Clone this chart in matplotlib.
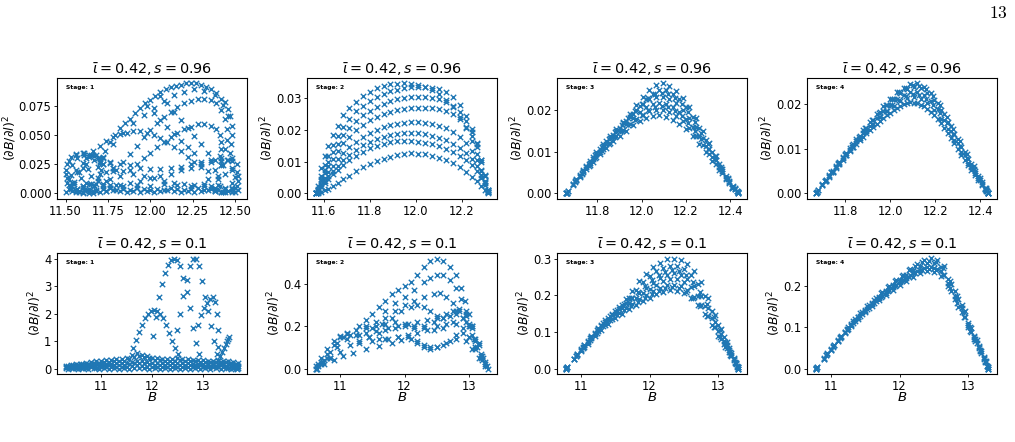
import matplotlib
matplotlib.use("Agg")
import matplotlib.pyplot as plt

# ---------------- text ----------------
row_titles = [r'$\bar{\iota}=0.42, s=0.96$', r'$\bar{\iota}=0.42, s=0.1$']
stage_names = ['Stage: 1', 'Stage: 2', 'Stage: 3', 'Stage: 4']
y_label = r'$(\partial B/\partial l)^2$'
x_label = r'$B$'
page_number = '13'

# ---------------- s = 0.96, stage 1 ----------------
s096_st1_B = [
    [11.70, 11.73, 11.76, 11.79, 11.82, 11.85, 11.88, 11.91, 11.94, 11.97, 12.00, 12.03, 12.06, 12.09, 12.12, 12.15,
     12.18, 12.21, 12.24, 12.27, 12.30, 12.33, 12.36, 12.39, 12.42, 12.44, 12.46, 12.47, 12.48, 12.48, 12.475, 12.47],
    [11.72, 11.78, 11.84, 11.90, 11.96, 12.02, 12.08, 12.14, 12.20, 12.26, 12.32, 12.38, 12.43, 12.46],
    [11.80, 11.84, 11.88, 11.92, 11.96, 12.00, 12.04, 12.08, 12.12, 12.16, 12.20, 12.24, 12.28, 12.32, 12.36, 12.39,
     12.42, 12.44, 12.45, 12.45, 12.44],
    [11.88, 11.92, 11.96, 12.00, 12.04, 12.08, 12.12, 12.16, 12.20, 12.24, 12.28, 12.32, 12.36, 12.39, 12.41, 12.42,
     12.42, 12.41],
    [11.62, 11.66, 11.70, 11.74, 11.78, 11.82, 11.86, 11.90, 11.94, 11.98, 12.02, 12.06, 12.10, 12.14, 12.18, 12.22,
     12.26, 12.30, 12.34],
    [12.06, 12.10, 12.14, 12.18, 12.22, 12.26, 12.30, 12.34, 12.38, 12.42],
    [11.98, 12.02, 12.06, 12.10, 12.14, 12.18, 12.22, 12.26],
    [11.70, 11.76, 11.82, 11.88, 11.94, 12.00, 12.06, 12.12, 12.18, 12.24, 12.30, 12.36, 12.42, 12.48],
    [11.76, 11.82, 11.88, 11.94, 12.00, 12.06, 12.12, 12.18, 12.24, 12.30, 12.36, 12.42, 12.46],
    [11.72, 11.78, 11.84, 11.90, 11.96, 12.02, 12.08, 12.14, 12.20, 12.26, 12.32, 12.38, 12.44],
    [11.50, 11.51, 11.53, 11.56, 11.60, 11.64, 11.67, 11.69, 11.70, 11.69, 11.67, 11.64, 11.60, 11.56, 11.53, 11.51],
    [11.53, 11.54, 11.57, 11.61, 11.65, 11.69, 11.72, 11.74, 11.74, 11.72, 11.68, 11.64, 11.60, 11.57, 11.54],
    [11.55, 11.57, 11.60, 11.63, 11.65, 11.64, 11.61, 11.57],
    [11.52, 11.56, 11.62, 11.70, 11.78, 11.82, 11.80, 11.74, 11.66, 11.58, 11.53],
    [11.50, 11.52, 11.56, 11.61, 11.66, 11.70, 11.71, 11.69, 11.65, 11.60, 11.55, 11.51],
    [11.58, 11.60, 11.64, 11.68, 11.72, 11.76, 11.78, 11.76, 11.72, 11.67, 11.62, 11.59],
    [12.40, 12.42, 12.45, 12.48, 12.51, 12.52, 12.51, 12.48, 12.44, 12.41],
    [12.34, 12.38, 12.43, 12.48, 12.50, 12.48, 12.43, 12.38],
    [12.36, 12.40, 12.44, 12.48, 12.51, 12.52, 12.50, 12.46, 12.42, 12.38],
    [11.50, 11.54, 11.58, 11.62, 11.66, 11.70, 11.74, 11.78, 11.82, 11.86, 11.90, 11.94, 11.98, 12.02, 12.06, 12.10,
     12.14, 12.18, 12.22, 12.26, 12.30, 12.34, 12.38, 12.42, 12.46, 12.50],
    [11.52, 11.56, 11.60, 11.64, 11.68, 11.72, 11.76, 11.80, 11.84, 11.88, 11.92, 11.96, 12.00, 12.04, 12.08, 12.12,
     12.16, 12.20, 12.24, 12.28, 12.32, 12.36, 12.40, 12.44, 12.48, 12.52],
    [11.52, 11.60, 11.68, 11.76, 11.84, 11.92, 12.00, 12.08, 12.16, 12.24, 12.32, 12.40, 12.48],
]
s096_st1_y = [
    [.030, .036, .044, .050, .056, .060, .064, .069, .073, .077, .080, .083, .087, .089, .091, .092,
     .093, .094, .094, .094, .093, .091, .089, .086, .081, .078, .072, .066, .058, .050, .042, .035],
    [.030, .042, .052, .060, .067, .073, .079, .084, .087, .089, .088, .084, .076, .066],
    [.020, .027, .034, .041, .048, .054, .060, .065, .070, .074, .077, .079, .081, .081, .080, .077,
     .071, .064, .055, .046, .038],
    [.020, .025, .030, .035, .040, .044, .048, .052, .055, .057, .059, .059, .058, .055, .050, .044,
     .038, .032],
    [.030, .036, .041, .045, .048, .051, .052, .053, .053, .052, .050, .047, .044, .040, .036, .031,
     .027, .023, .019],
    [.083, .077, .070, .063, .056, .049, .042, .035, .029, .024],
    [.075, .069, .063, .057, .051, .045, .040, .035],
    [.028, .027, .025, .024, .022, .021, .021, .022, .023, .025, .027, .029, .030, .028],
    [.005, .007, .009, .011, .013, .015, .017, .020, .022, .025, .027, .028, .029],
    [.025, .022, .019, .017, .015, .013, .011, .009, .008, .007, .006, .005, .004],
    [.017, .025, .031, .034, .035, .033, .029, .023, .017, .011, .006, .002, .000, .001, .004, .009],
    [.016, .024, .030, .033, .033, .030, .025, .018, .011, .006, .002, .000, .001, .004, .009],
    [.010, .018, .022, .021, .015, .008, .003, .004],
    [.012, .020, .025, .026, .022, .015, .007, .002, .000, .002, .006],
    [.020, .028, .033, .035, .033, .027, .020, .013, .008, .006, .008, .013],
    [.018, .026, .031, .033, .031, .026, .019, .012, .008, .007, .009, .013],
    [.015, .024, .029, .030, .025, .015, .006, .001, .001, .006],
    [.012, .020, .024, .022, .014, .005, .001, .003],
    [.006, .012, .017, .020, .018, .011, .005, .002, .001, .002],
    [.001, .002, .001, .003, .002, .001, .002, .003, .002, .001, .002, .001, .002, .001, .002, .003,
     .002, .001, .002, .001, .002, .003, .002, .001, .002, .001],
    [.004, .003, .005, .004, .003, .004, .005, .003, .004, .003, .005, .004, .003, .004, .003, .005,
     .004, .003, .004, .005, .003, .004, .003, .005, .004, .003],
    [.007, .006, .008, .007, .006, .007, .006, .008, .007, .006, .008, .007, .009],
]

# ---------------- s = 0.96, stage 2 ----------------
s096_st2_grid = [11.565, 11.575, 11.59, 11.605, 11.62, 11.64, 11.66, 11.685, 11.71, 11.74, 11.77, 11.80, 11.83,
                 11.86, 11.89, 11.92, 11.95, 11.98, 12.01, 12.04, 12.07, 12.10, 12.13, 12.16, 12.19, 12.22,
                 12.245, 12.265, 12.285, 12.30, 12.315]
s096_st2_y = [
    [0, .0025, .0080, .0118, .0148, .0185, .0213, .0246, .0268, .0289, .0306, .0320, .0331, .0339, .0343, .0345,
     .0346, .0345, .0342, .0335, .0325, .0312, .0295, .0272, .0241, .0205, .0165, .0125, .0075, .0035, .0005],
    [0, .0015, .0055, .0090, .0118, .0152, .0180, .0210, .0235, .0258, .0276, .0291, .0303, .0313, .0321, .0327,
     .0331, .0334, .0335, .0335, .0333, .0328, .0318, .0302, .0278, .0243, .0203, .0160, .0105, .0055, .0010],
    [0, .0012, .0045, .0075, .0100, .0130, .0156, .0184, .0207, .0228, .0246, .0260, .0272, .0282, .0290, .0296,
     .0300, .0302, .0303, .0303, .0301, .0297, .0289, .0276, .0256, .0227, .0192, .0155, .0105, .0058, .0010],
    [0, .0010, .0038, .0063, .0085, .0110, .0133, .0158, .0179, .0199, .0216, .0230, .0241, .0250, .0257, .0262,
     .0266, .0268, .0270, .0270, .0269, .0266, .0260, .0250, .0234, .0210, .0180, .0146, .0100, .0055, .0010],
    [0, .0008, .0030, .0050, .0068, .0088, .0107, .0128, .0146, .0163, .0178, .0190, .0200, .0208, .0215, .0220,
     .0223, .0225, .0225, .0223, .0219, .0213, .0205, .0194, .0178, .0158, .0133, .0106, .0072, .0040, .0007],
    [0, .0006, .0024, .0040, .0055, .0072, .0088, .0106, .0122, .0138, .0151, .0162, .0171, .0178, .0184, .0188,
     .0190, .0190, .0189, .0186, .0181, .0175, .0167, .0157, .0144, .0128, .0108, .0086, .0058, .0032, .0005],
    [0, .0005, .0019, .0032, .0045, .0060, .0074, .0090, .0105, .0119, .0131, .0142, .0150, .0157, .0161, .0164,
     .0165, .0165, .0163, .0160, .0155, .0149, .0141, .0131, .0119, .0105, .0089, .0071, .0048, .0027, .0004],
    [0, .0002, .0006, .0010, .0015, .0024, .0033, .0045, .0056, .0070, .0082, .0093, .0102, .0110, .0116, .0121,
     .0124, .0126, .0125, .0123, .0119, .0113, .0105, .0095, .0083, .0068, .0053, .0040, .0024, .0012, .0002],
]

# ---------------- s = 0.96, stage 3 ----------------
s096_st3_grid_a = [11.656, 11.69, 11.72, 11.75, 11.78, 11.81, 11.84, 11.87, 11.90, 11.93, 11.96, 11.99, 12.02,
                   12.05, 12.08, 12.11, 12.14, 12.17, 12.20, 12.23, 12.26, 12.29, 12.32, 12.35, 12.38, 12.41, 12.437]
s096_st3_grid_b = [11.66, 11.705, 11.735, 11.765, 11.795, 11.825, 11.855, 11.885, 11.915, 11.945, 11.975, 12.005,
                   12.035, 12.065, 12.095, 12.125, 12.155, 12.185, 12.215, 12.245, 12.275, 12.305, 12.335, 12.365,
                   12.395, 12.42, 12.434]
s096_st3_grid_c = [11.665, 11.70, 11.73, 11.76, 11.79, 11.82, 11.85, 11.88, 11.91, 11.94, 11.97, 12.00, 12.03,
                   12.06, 12.09, 12.12, 12.15, 12.18, 12.21, 12.24, 12.27, 12.30, 12.33, 12.36, 12.39, 12.415, 12.43]
s096_st3_y_a = [
    [0, .0021, .0040, .0058, .0076, .0093, .0109, .0124, .0137, .0150, .0162, .0172, .0180, .0185, .0186, .0183,
     .0176, .0166, .0153, .0137, .0119, .0099, .0078, .0056, .0034, .0012, 0],
    [0, .0022, .0042, .0062, .0081, .0099, .0117, .0134, .0150, .0166, .0180, .0194, .0205, .0213, .0216, .0214,
     .0206, .0193, .0177, .0158, .0136, .0112, .0087, .0062, .0038, .0013, 0],
    [0, .0023, .0044, .0065, .0086, .0106, .0124, .0140, .0155, .0172, .0190, .0208, .0225, .0238, .0246, .0246,
     .0238, .0224, .0205, .0182, .0156, .0128, .0099, .0070, .0042, .0015, 0],
]
s096_st3_y_b = [
    [.0002, .0032, .0051, .0069, .0087, .0105, .0121, .0137, .0151, .0165, .0177, .0188, .0196, .0200, .0199, .0194,
     .0185, .0172, .0156, .0137, .0116, .0094, .0071, .0048, .0025, .0010, .0003],
    [.0002, .0033, .0053, .0073, .0093, .0112, .0131, .0149, .0167, .0183, .0199, .0213, .0224, .0230, .0231, .0226,
     .0216, .0200, .0181, .0158, .0133, .0107, .0080, .0053, .0027, .0011, .0003],
    [.0002, .0035, .0056, .0078, .0099, .0119, .0137, .0153, .0170, .0190, .0210, .0230, .0247, .0258, .0262, .0257,
     .0245, .0227, .0205, .0179, .0150, .0120, .0089, .0059, .0030, .0012, .0003],
]
s096_st3_y_c = [
    [.0006, .0028, .0047, .0066, .0084, .0101, .0118, .0134, .0149, .0163, .0176, .0188, .0198, .0205, .0208, .0205,
     .0197, .0185, .0169, .0150, .0129, .0106, .0082, .0058, .0035, .0016, .0005],
    [.0006, .0030, .0050, .0071, .0091, .0111, .0130, .0147, .0163, .0180, .0197, .0214, .0228, .0237, .0240, .0237,
     .0228, .0213, .0193, .0170, .0144, .0117, .0089, .0062, .0036, .0017, .0006],
]

# ---------------- s = 0.96, stage 4 ----------------
s096_st4_grid_a = [11.67, 11.70, 11.73, 11.76, 11.79, 11.82, 11.85, 11.88, 11.91, 11.94, 11.97, 12.00, 12.03,
                   12.06, 12.09, 12.12, 12.15, 12.18, 12.21, 12.24, 12.27, 12.30, 12.33, 12.36, 12.39, 12.42, 12.435]
s096_st4_grid_b = [11.675, 11.715, 11.745, 11.775, 11.805, 11.835, 11.865, 11.895, 11.925, 11.955, 11.985, 12.015,
                   12.045, 12.075, 12.105, 12.135, 12.165, 12.195, 12.225, 12.255, 12.285, 12.315, 12.345, 12.375,
                   12.405, 12.425, 12.432]
s096_st4_grid_c = [11.68, 11.71, 11.74, 11.77, 11.80, 11.83, 11.86, 11.89, 11.92, 11.95, 11.98, 12.01, 12.04,
                   12.07, 12.10, 12.13, 12.16, 12.19, 12.22, 12.25, 12.28, 12.31, 12.34, 12.37, 12.40, 12.425, 12.43]
s096_st4_y_a = [
    [0, .0019, .0038, .0057, .0076, .0094, .0111, .0127, .0142, .0156, .0169, .0181, .0192, .0200, .0204, .0202,
     .0195, .0183, .0167, .0147, .0124, .0099, .0075, .0052, .0030, .0009, 0],
    [0, .0020, .0040, .0060, .0079, .0098, .0117, .0135, .0152, .0168, .0184, .0198, .0211, .0221, .0228, .0228,
     .0221, .0207, .0188, .0165, .0140, .0113, .0086, .0060, .0035, .0011, 0],
    [0, .0021, .0041, .0062, .0082, .0102, .0122, .0141, .0160, .0178, .0195, .0211, .0226, .0237, .0245, .0246,
     .0239, .0224, .0203, .0178, .0151, .0122, .0093, .0066, .0040, .0013, 0],
]
s096_st4_y_b = [
    [.0003, .0029, .0048, .0067, .0085, .0103, .0119, .0135, .0149, .0163, .0175, .0187, .0196, .0202, .0203, .0199,
     .0189, .0175, .0157, .0136, .0112, .0087, .0064, .0041, .0020, .0006, .0002],
    [.0003, .0030, .0049, .0068, .0087, .0105, .0123, .0139, .0155, .0170, .0184, .0196, .0207, .0214, .0216, .0212,
     .0202, .0186, .0167, .0144, .0119, .0093, .0068, .0045, .0022, .0007, .0002],
    [.0003, .0030, .0051, .0071, .0091, .0110, .0129, .0147, .0165, .0182, .0198, .0212, .0225, .0234, .0239, .0236,
     .0225, .0208, .0186, .0161, .0133, .0105, .0078, .0051, .0025, .0008, .0002],
]
s096_st4_y_c = [
    [.0007, .0027, .0047, .0066, .0085, .0104, .0122, .0139, .0155, .0171, .0185, .0198, .0209, .0217, .0222, .0220,
     .0212, .0198, .0179, .0157, .0132, .0106, .0080, .0055, .0030, .0010, .0005],
    [.0007, .0028, .0048, .0068, .0088, .0108, .0127, .0146, .0164, .0181, .0197, .0212, .0226, .0236, .0242, .0241,
     .0233, .0218, .0197, .0172, .0145, .0117, .0088, .0061, .0034, .0012, .0006],
]

# ---------------- s = 0.1, stage 1 ----------------
s01_st1_band_grid = [10.3, 10.4, 10.5, 10.6, 10.7, 10.8, 10.9, 11.0, 11.1, 11.2, 11.3, 11.4, 11.5, 11.6, 11.7,
                     11.8, 11.9, 12.0, 12.1, 12.2, 12.3, 12.4, 12.5, 12.6, 12.7, 12.8, 12.9, 13.0, 13.1, 13.2,
                     13.3, 13.4, 13.5, 13.6, 13.7]
s01_st1_band_grid_b = [10.35, 10.45, 10.55, 10.65, 10.75, 10.85, 10.95, 11.05, 11.15, 11.25, 11.35, 11.45, 11.55,
                       11.65, 11.75, 11.85, 11.95, 12.05, 12.15, 12.25, 12.35, 12.45, 12.55, 12.65, 12.75, 12.85,
                       12.95, 13.05, 13.15, 13.25, 13.35, 13.45, 13.55, 13.65, 13.68]
s01_st1_band_y = [
    [.10, .13, .16, .19, .22, .25, .27, .29, .31, .33, .35, .37, .40, .50, .58, .52, .45, .40, .38, .36, .35, .36,
     .38, .37, .35, .33, .32, .31, .30, .30, .31, .30, .28, .25, .20],
    [.06, .08, .10, .12, .13, .15, .16, .17, .18, .19, .20, .21, .22, .26, .30, .28, .25, .22, .21, .20, .20, .21,
     .22, .21, .20, .19, .18, .18, .17, .17, .18, .17, .16, .14, .11],
    [.02, .03, .02, .04, .03, .05, .04, .06, .05, .07, .06, .08, .07, .10, .12, .10, .08, .07, .08, .07, .06, .07,
     .08, .07, .06, .07, .06, .05, .06, .05, .06, .05, .04, .03, .02],
]
s01_st1_band_y_b = [
    [.09, .12, .14, .16, .18, .20, .22, .24, .25, .27, .28, .30, .34, .42, .47, .44, .38, .33, .31, .30, .29, .30,
     .31, .30, .29, .27, .26, .25, .25, .25, .25, .24, .22, .19, .15],
    [.05, .06, .07, .08, .09, .10, .11, .12, .13, .14, .14, .15, .17, .20, .22, .20, .17, .15, .14, .13, .13, .14,
     .15, .14, .13, .12, .12, .11, .11, .11, .12, .11, .10, .09, .07],
    [.01, .02, .01, .02, .01, .02, .01, .02, .01, .02, .01, .02, .01, .02, .03, .02, .01, .02, .01, .02, .01, .02,
     .01, .02, .01, .02, .01, .02, .01, .02, .01, .02, .01, .02, .01],
]
s01_st1_arch_B = [
    [11.62, 11.68, 11.74, 11.80, 11.86, 11.92, 11.98, 12.04, 12.10, 12.16, 12.22, 12.28, 12.34, 12.40, 12.46, 12.52],
    [12.02, 12.08, 12.14, 12.20, 12.26, 12.32, 12.38, 12.44, 12.50, 12.56, 12.62, 12.68, 12.74, 12.80, 12.86, 12.92],
    [12.50, 12.56, 12.62, 12.68, 12.74, 12.80, 12.86, 12.92, 12.98, 13.04, 13.10, 13.16, 13.22, 13.28],
    [12.90, 12.96, 13.02, 13.08, 13.14, 13.20, 13.24, 13.27, 13.29, 13.30],
    [13.30, 13.34, 13.38, 13.42, 13.45, 13.48, 13.50, 13.51],
]
s01_st1_arch_y = [
    [0.75, 1.05, 1.35, 1.60, 1.85, 2.00, 2.12, 2.16, 2.12, 2.00, 1.85, 1.60, 1.30, 1.00, 0.75, 0.55],
    [1.20, 1.90, 2.60, 3.10, 3.50, 3.80, 3.95, 4.00, 3.95, 3.75, 3.30, 2.80, 2.20, 1.50, 0.95, 0.55],
    [1.40, 2.00, 2.65, 3.25, 3.75, 4.00, 4.02, 3.75, 3.20, 2.60, 2.10, 1.55, 1.00, 0.55],
    [1.60, 1.95, 2.20, 2.40, 2.55, 2.60, 2.45, 2.00, 1.40, 0.80],
    [0.30, 0.45, 0.60, 0.75, 0.90, 1.00, 1.10, 1.15],
]

# ---------------- s = 0.1, stage 2 ----------------
s01_st2_B = [
    [11.30, 11.40, 11.50, 11.60, 11.70, 11.80, 11.90, 12.00, 12.10, 12.20, 12.30, 12.40, 12.50, 12.60, 12.70, 12.80,
     12.88, 12.94, 13.00, 13.05],
    [11.40, 11.55, 11.70, 11.85, 12.00, 12.15, 12.30, 12.45, 12.55, 12.65, 12.75, 12.85, 12.95, 13.05, 13.12, 13.18],
    [11.50, 11.65, 11.80, 11.95, 12.10, 12.20, 12.30, 12.40, 12.50, 12.60, 12.70, 12.80, 12.90, 13.00, 13.10, 13.18],
    [10.62, 10.70, 10.80, 10.90, 11.00, 11.10, 11.25, 11.40, 11.55, 11.70, 11.85, 12.00, 12.15, 12.30, 12.45, 12.60,
     12.75, 12.85, 12.95, 13.05, 13.15, 13.22, 13.28],
    [10.64, 10.75, 10.85, 10.95, 11.05, 11.15, 11.30, 11.45, 11.60, 11.75, 11.90, 12.05, 12.20, 12.35, 12.50, 12.65,
     12.80, 12.90, 13.00, 13.10, 13.20, 13.30],
    [10.62, 10.75, 10.90, 11.05, 11.20, 11.40, 11.60, 11.80, 11.95, 12.10, 12.20, 12.30, 12.40, 12.50, 12.65, 12.80,
     12.95, 13.05, 13.15, 13.25],
    [11.30, 11.50, 11.70, 11.90, 12.05, 12.20, 12.30, 12.40, 12.50, 12.60, 12.70, 12.80, 12.90, 13.00, 13.10, 13.18,
     13.25],
    [11.70, 11.85, 12.00, 12.15, 12.30, 12.40, 12.50, 12.60, 12.70, 12.80, 12.88, 12.95, 13.02, 13.08],
    [10.62, 10.70, 10.80, 10.90, 11.00, 11.10, 10.66, 10.74, 10.84],
    [10.66, 10.80, 10.95, 11.10, 11.25, 11.40, 11.55, 11.70, 11.85, 12.00, 12.15, 12.30, 12.45, 12.60, 12.75, 12.90,
     13.00, 13.10, 13.20],
    [10.70, 10.85, 11.00, 11.15, 11.30, 11.45, 11.60, 11.75, 11.90, 12.05, 12.20, 12.35, 12.50, 12.65, 12.80, 12.95,
     13.05, 13.15, 13.25],
]
s01_st2_y = [
    [.20, .23, .26, .29, .32, .35, .37, .39, .41, .44, .48, .51, .52, .51, .48, .44, .38, .32, .26, .20],
    [.20, .22, .24, .27, .30, .32, .34, .35, .355, .34, .31, .27, .22, .16, .10, .05],
    [.19, .21, .24, .27, .29, .30, .29, .27, .25, .24, .25, .26, .24, .20, .13, .07],
    [.00, .03, .07, .11, .15, .17, .18, .19, .20, .21, .22, .21, .19, .20, .22, .24, .27, .28, .26, .20, .12, .05,
     .01],
    [.00, .04, .08, .12, .15, .16, .16, .15, .14, .14, .15, .16, .17, .18, .20, .21, .21, .19, .15, .09, .04, .00],
    [.00, .02, .04, .06, .075, .09, .105, .12, .135, .14, .12, .10, .09, .10, .12, .14, .13, .09, .05, .01],
    [.12, .13, .14, .15, .15, .13, .11, .10, .10, .11, .13, .16, .17, .15, .10, .06, .02],
    [.27, .31, .34, .37, .41, .43, .44, .44, .42, .38, .33, .27, .20, .14],
    [.01, .05, .09, .13, .155, .165, .02, .03, .05],
    [.01, .05, .10, .14, .16, .17, .175, .18, .19, .20, .20, .19, .18, .19, .22, .24, .21, .14, .06],
    [.02, .05, .08, .11, .13, .15, .17, .19, .20, .21, .22, .23, .24, .26, .27, .25, .19, .11, .03],
]

# ---------------- s = 0.1, stage 3 ----------------
s01_st3_grid_a = [10.78, 10.90, 11.00, 11.10, 11.20, 11.30, 11.40, 11.50, 11.60, 11.70, 11.80, 11.90, 12.00, 12.10,
                  12.20, 12.30, 12.40, 12.50, 12.60, 12.70, 12.80, 12.90, 13.00, 13.08, 13.15, 13.22, 13.29]
s01_st3_grid_b = [10.80, 10.95, 11.05, 11.15, 11.25, 11.35, 11.45, 11.55, 11.65, 11.75, 11.85, 11.95, 12.05, 12.15,
                  12.25, 12.35, 12.45, 12.55, 12.65, 12.75, 12.85, 12.95, 13.04, 13.12, 13.19, 13.25, 13.28]
s01_st3_grid_c = [10.79, 10.93, 11.03, 11.13, 11.23, 11.33, 11.43, 11.53, 11.63, 11.73, 11.83, 11.93, 12.03, 12.13,
                  12.23, 12.33, 12.43, 12.53, 12.63, 12.73, 12.83, 12.93, 13.02, 13.10, 13.17, 13.24, 13.27]
s01_st3_y_a = [
    [0, .025, .047, .068, .088, .106, .122, .137, .150, .162, .173, .183, .193, .202, .209, .213, .212, .205, .192,
     .172, .148, .120, .090, .066, .044, .022, 0],
    [0, .026, .050, .073, .095, .115, .133, .150, .165, .179, .192, .205, .217, .228, .238, .244, .244, .236, .221,
     .199, .171, .138, .103, .075, .050, .025, 0],
    [0, .027, .052, .075, .098, .119, .139, .157, .174, .192, .215, .235, .252, .265, .274, .279, .279, .272, .256,
     .230, .197, .158, .118, .085, .056, .028, 0],
]
s01_st3_y_b = [
    [.004, .038, .060, .082, .102, .120, .136, .151, .165, .177, .189, .201, .211, .220, .227, .229, .225, .214, .196,
     .172, .144, .112, .081, .055, .033, .012, .003],
    [.004, .039, .063, .085, .107, .127, .145, .162, .178, .192, .206, .220, .234, .246, .255, .260, .256, .244, .224,
     .197, .165, .128, .094, .064, .037, .014, .004],
    [.004, .040, .064, .088, .110, .131, .150, .169, .189, .212, .238, .259, .276, .289, .298, .300, .297, .285, .265,
     .235, .192, .147, .109, .072, .041, .015, .004],
]
s01_st3_y_c = [
    [.002, .033, .056, .077, .097, .115, .131, .146, .159, .171, .182, .193, .203, .212, .219, .222, .219, .209, .193,
     .170, .143, .112, .085, .060, .038, .014, .005],
    [.002, .035, .059, .082, .104, .124, .143, .160, .177, .193, .209, .226, .242, .255, .264, .268, .265, .254, .236,
     .210, .177, .140, .104, .073, .046, .017, .006],
]

# ---------------- s = 0.1, stage 4 ----------------
s01_st4_grid_a = [10.78, 10.90, 11.00, 11.10, 11.20, 11.30, 11.40, 11.50, 11.60, 11.70, 11.80, 11.90, 12.00, 12.10,
                  12.20, 12.30, 12.40, 12.50, 12.60, 12.70, 12.80, 12.90, 13.00, 13.08, 13.15, 13.22, 13.29]
s01_st4_grid_b = [10.80, 10.95, 11.05, 11.15, 11.25, 11.35, 11.45, 11.55, 11.65, 11.75, 11.85, 11.95, 12.05, 12.15,
                  12.25, 12.35, 12.45, 12.55, 12.65, 12.75, 12.85, 12.95, 13.04, 13.12, 13.19, 13.25, 13.28]
s01_st4_grid_c = [10.79, 10.93, 11.03, 11.13, 11.23, 11.33, 11.43, 11.53, 11.63, 11.73, 11.83, 11.93, 12.03, 12.13,
                  12.23, 12.33, 12.43, 12.53, 12.63, 12.73, 12.83, 12.93, 13.02, 13.10, 13.17, 13.24, 13.27]
s01_st4_y_a = [
    [0, .024, .045, .066, .086, .104, .121, .137, .152, .166, .179, .191, .202, .213, .223, .231, .236, .234, .225,
     .200, .168, .138, .100, .072, .049, .024, 0],
    [0, .024, .046, .067, .088, .106, .124, .140, .156, .170, .184, .197, .209, .220, .231, .240, .246, .245, .236,
     .208, .177, .146, .105, .076, .051, .025, 0],
    [0, .025, .047, .068, .089, .108, .126, .143, .159, .174, .189, .202, .215, .227, .239, .249, .256, .256, .247,
     .218, .187, .154, .110, .080, .054, .027, 0],
]
s01_st4_y_b = [
    [.003, .036, .057, .077, .097, .115, .132, .148, .163, .177, .191, .203, .215, .226, .236, .244, .246, .241, .228,
     .188, .150, .124, .088, .062, .038, .015, .004],
    [.003, .037, .058, .080, .100, .119, .137, .154, .170, .186, .200, .214, .228, .241, .253, .263, .267, .263, .249,
     .205, .168, .140, .099, .069, .043, .017, .004],
]
s01_st4_y_c = [
    [.002, .032, .053, .073, .093, .111, .128, .144, .160, .174, .188, .200, .212, .223, .233, .240, .242, .238, .226,
     .195, .160, .125, .092, .066, .042, .016, .006],
    [.002, .033, .055, .076, .097, .116, .134, .151, .167, .183, .198, .212, .225, .238, .250, .259, .262, .259, .245,
     .212, .175, .138, .100, .071, .045, .017, .006],
]

# ---------------- tick values ----------------
x_ticks = [[11.50, 11.75, 12.00, 12.25, 12.50], [11.6, 11.8, 12.0, 12.2], [11.8, 12.0, 12.2, 12.4],
           [11.8, 12.0, 12.2, 12.4], [11, 12, 13], [11, 12, 13], [11, 12, 13], [11, 12, 13]]
y_ticks = [[0.0, 0.025, 0.05, 0.075], [0.0, 0.01, 0.02, 0.03], [0.0, 0.01, 0.02], [0.0, 0.01, 0.02],
           [0, 1, 2, 3, 4], [0.0, 0.2, 0.4], [0.0, 0.1, 0.2, 0.3], [0.0, 0.1, 0.2]]

# ---------------- assemble (x lists, y lists) per panel ----------------
panels = [
    (s096_st1_B, s096_st1_y),
    ([s096_st2_grid] * len(s096_st2_y), s096_st2_y),
    ([s096_st3_grid_a] * 3 + [s096_st3_grid_b] * 3 + [s096_st3_grid_c] * 2,
     s096_st3_y_a + s096_st3_y_b + s096_st3_y_c),
    ([s096_st4_grid_a] * 3 + [s096_st4_grid_b] * 3 + [s096_st4_grid_c] * 2,
     s096_st4_y_a + s096_st4_y_b + s096_st4_y_c),
    ([s01_st1_band_grid] * 3 + [s01_st1_band_grid_b] * 3 + s01_st1_arch_B,
     s01_st1_band_y + s01_st1_band_y_b + s01_st1_arch_y),
    (s01_st2_B, s01_st2_y),
    ([s01_st3_grid_a] * 3 + [s01_st3_grid_b] * 3 + [s01_st3_grid_c] * 2,
     s01_st3_y_a + s01_st3_y_b + s01_st3_y_c),
    ([s01_st4_grid_a] * 3 + [s01_st4_grid_b] * 2 + [s01_st4_grid_c] * 2,
     s01_st4_y_a + s01_st4_y_b + s01_st4_y_c),
]

BLUE = '#1f77b4'
W, H = 1015, 442
fig = plt.figure(figsize=(W / 100, H / 100), dpi=100)

col_left_px = [57, 307, 557, 807]
row_top_px = [78, 253]
ax_w_px, ax_h_px = 190, 121

for idx, (xs_list, ys_list) in enumerate(panels):
    r, c = divmod(idx, 4)
    ax = fig.add_axes([col_left_px[c] / W, 1 - (row_top_px[r] + ax_h_px) / H, ax_w_px / W, ax_h_px / H])
    for xs, ys in zip(xs_list, ys_list):
        ax.scatter(xs, ys, marker='x', s=15, linewidths=1.0, color=BLUE)
    ax.set_xticks(x_ticks[idx])
    ax.set_yticks(y_ticks[idx])
    ax.tick_params(labelsize=8.3, length=2.5, width=0.6, pad=1.5)
    for sp in ax.spines.values():
        sp.set_linewidth(0.8)
    ax.set_title(row_titles[r], fontsize=10.4, pad=2.5)
    ax.set_ylabel(y_label, fontsize=9, labelpad=0)
    if r == 1:
        ax.set_xlabel(x_label, fontsize=9.5, labelpad=-1)
    ax.text(0.05, 0.925, stage_names[c], transform=ax.transAxes, fontsize=4.3, fontweight='bold',
            va='center', ha='left')

fig.text(0.984, 0.970, r'$' + page_number + r'$', math_fontfamily='cm', fontsize=12.5, ha='center', va='center')

fig.savefig('out.png', dpi=100)
